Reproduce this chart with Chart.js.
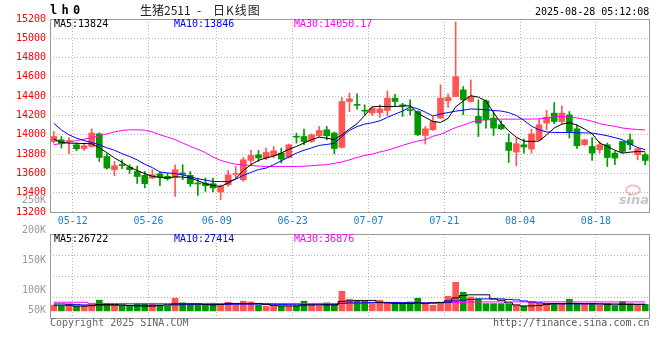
<!DOCTYPE html>
<html>
<head>
<meta charset="utf-8">
<title>lh0 日K线图</title>
<script src="https://cdn.jsdelivr.net/npm/chart.js@4.4.1/dist/chart.umd.min.js"></script>
<style>
  html, body { margin: 0; padding: 0; background: #fff; }
  #wrap { position: relative; width: 660px; height: 360px; overflow: hidden;
          font-family: "DejaVu Sans Mono", monospace; font-size: 10px; line-height: 12px; color: #000; }
  #kbox { position: absolute; left: 0; top: 0; width: 660px; height: 232px; }
  #vbox { position: absolute; left: 0; top: 190px; width: 660px; height: 170px; }
  canvas { display: block; }
  .t { position: absolute; white-space: pre; z-index: 5; }
  .cjk { font-family: "Noto Sans CJK SC", sans-serif; font-size: 12px; line-height: 14px; color: #222; }
</style>
</head>
<body>
<div id="wrap">
  <div id="kbox"><canvas id="kline" width="660" height="232"></canvas></div>
  <div id="vbox"><canvas id="vol" width="660" height="170"></canvas></div>

  <div class="t" style="left:50px;top:3px;font-weight:bold;font-size:12px;line-height:14px;letter-spacing:-1.5px">l h 0</div>
  <div class="t cjk" style="left:140px;top:3px">生猪2511</div>
  <div class="t cjk" style="left:197px;top:3px">-</div>
  <div class="t cjk" style="left:213px;top:3px;letter-spacing:1px">日K线图</div>
  <div class="t" style="left:535px;top:6px">2025-08-28 05:12:08</div>

  <div class="t" style="left:54px;top:18px;color:#000">MA5:13824</div>
  <div class="t" style="left:174px;top:18px;color:#0000ff">MA10:13846</div>
  <div class="t" style="left:294px;top:18px;color:#ff00ff">MA30:14050.17</div>

  <div class="t" style="left:54px;top:233px;color:#000">MA5:26722</div>
  <div class="t" style="left:174px;top:233px;color:#0000ff">MA10:27414</div>
  <div class="t" style="left:294px;top:233px;color:#ff00ff">MA30:36876</div>

  <div class="t" style="left:50px;top:317px;color:#666">Copyright 2025 SINA.COM</div>
  <div class="t" style="left:493px;top:317px;color:#555">http://finance.sina.com.cn</div>
</div>
<script>
// trading days shown on the chart
var dates = ['05-08','05-09','05-12','05-13','05-14','05-15','05-16','05-19','05-20','05-21',
  '05-22','05-23','05-26','05-27','05-28','05-29','05-30','06-03','06-04','06-05',
  '06-06','06-09','06-10','06-11','06-12','06-13','06-16','06-17','06-18','06-19',
  '06-20','06-23','06-24','06-25','06-26','06-27','06-30','07-01','07-02','07-03',
  '07-04','07-07','07-08','07-09','07-10','07-11','07-14','07-15','07-16','07-17',
  '07-18','07-21','07-22','07-23','07-24','07-25','07-28','07-29','07-30','07-31',
  '08-01','08-04','08-05','08-06','08-07','08-08','08-11','08-12','08-13','08-14',
  '08-15','08-18','08-19','08-20','08-21','08-22','08-25','08-26','08-27'];
var tickDates = ['05-12','05-26','06-09','06-23','07-07','07-21','08-04','08-18'];

var opens = [13931,13948,13930,13897,13858,13879,14010,13775,13638,13690,
  13666,13620,13580,13552,13596,13570,13558,13605,13580,13500,
  13500,13493,13407,13483,13590,13534,13734,13793,13760,13783,
  13810,13765,13985,13982,13931,13990,14052,14018,13869,14345,
  14315,14255,14225,14230,14252,14380,14308,14262,14241,13993,
  14052,14173,14352,14396,14466,14345,14190,14352,14173,14104,
  13920,13821,13897,13852,13948,14121,14225,14138,14207,14062,
  13897,13879,13845,13897,13810,13931,13948,13793,13793];
var highs = [14034,13982,13970,13915,13914,14062,14020,13803,13724,13740,
  13690,13676,13620,13638,13610,13600,13690,13690,13620,13552,
  13552,13552,13480,13631,13672,13765,13838,13838,13862,13879,
  13862,13905,14018,14059,14010,14086,14086,14030,14386,14432,
  14424,14311,14290,14311,14455,14420,14328,14362,14250,14086,
  14189,14518,14424,15170,14500,14569,14362,14362,14241,14145,
  14010,13966,13955,14059,14160,14252,14334,14300,14241,14104,
  13955,13972,13931,13914,13830,13935,14010,13865,13810];
var lows = [13914,13862,13805,13835,13838,13870,13724,13645,13576,13650,
  13600,13495,13450,13545,13472,13530,13361,13535,13465,13372,
  13413,13410,13327,13465,13552,13517,13690,13724,13741,13760,
  13707,13760,13914,13897,13920,13982,13948,13803,13865,14241,
  14266,14207,14200,14180,14197,14300,14190,14207,13990,13904,
  14045,14173,14283,14396,14207,14338,13982,14070,13993,14052,
  13713,13679,13810,13810,13940,14052,14114,14114,13966,13860,
  13890,13734,13810,13672,13690,13810,13845,13740,13690];
var closes = [13982,13907,13938,13855,13886,14018,13765,13655,13679,13680,
  13638,13568,13493,13586,13562,13545,13638,13590,13493,13490,
  13472,13448,13465,13586,13600,13741,13786,13760,13817,13834,
  13749,13897,13975,13931,14000,14045,13990,13858,14345,14373,
  14305,14245,14276,14269,14380,14345,14300,14252,14000,14062,
  14138,14380,14386,14603,14362,14397,14121,14155,14069,14062,
  13838,13907,13873,14010,14104,14183,14138,14225,14034,13886,
  13948,13810,13897,13765,13759,13827,13897,13855,13734];

var ma5 = [13955,13920,13914,13912,13910,13907,13865,13815,13760,13715,
  13665,13630,13598,13570,13558,13552,13565,13562,13552,13525,
  13492,13475,13465,13500,13545,13630,13690,13735,13760,13780,
  13810,13850,13879,13915,13950,13976,13965,13950,14000,14060,
  14115,14200,14290,14295,14293,14293,14298,14300,14224,14180,
  14138,14128,14170,14290,14350,14405,14390,14350,14230,14120,
  14040,13975,13935,13931,13935,14000,14070,14110,14127,14100,
  14060,14010,13914,13880,13840,13810,13820,13827,13824];
var ma10 = [14120,14050,14000,13965,13940,13920,13897,13865,13840,13805,
  13775,13740,13695,13660,13615,13605,13598,13585,13565,13545,
  13530,13517,13515,13515,13540,13580,13610,13640,13655,13690,
  13730,13770,13810,13840,13865,13890,13900,13912,13980,14045,
  14085,14111,14125,14145,14180,14215,14245,14290,14270,14235,
  14195,14215,14230,14245,14255,14268,14265,14259,14252,14246,
  14230,14200,14150,14090,14052,14030,14024,14024,14024,14022,
  14020,14018,14005,13990,13970,13950,13905,13868,13846];
var ma30 = [13897,13910,13925,13940,13955,13970,13990,14010,14030,14045,
  14052,14052,14048,14030,14000,13976,13950,13915,13880,13850,
  13815,13770,13735,13712,13695,13688,13682,13676,13672,13672,
  13672,13672,13672,13674,13680,13686,13690,13705,13718,13740,
  13765,13786,13800,13822,13840,13865,13890,13915,13935,13950,
  13985,14005,14040,14075,14100,14130,14150,14155,14160,14162,
  14162,14162,14162,14163,14165,14175,14185,14190,14185,14175,
  14160,14140,14115,14100,14088,14070,14062,14055,14050.17];

var volumes = [23800,20500,28700,20500,21300,27400,44200,29900,22500,20500,
  20500,29900,29900,28700,23300,19200,52000,32800,23300,23300,
  23300,31500,23300,35600,23300,39700,36900,23300,19200,20100,
  19600,18800,20100,39700,23300,19200,32800,24600,80700,47900,
  42200,39700,29900,43800,29900,27400,29900,36900,52000,29900,
  23300,29900,60200,117500,76600,57300,49100,29900,29900,29900,
  27400,23300,19200,35600,29900,28700,28700,31500,47900,28700,
  27400,27400,23800,29900,20500,38900,28700,25800,27400];
var vma5 = [23300,23300,23300,19700,19700,21300,26600,26600,26600,24600,
  22500,20500,19700,19700,22500,24600,28700,28700,28700,28700,
  26600,24600,26600,29900,29900,29900,29900,29900,26600,22500,
  20500,20500,20500,24600,24600,24600,24600,24600,38900,41000,
  43000,43000,43000,34800,32800,30700,30700,30700,32800,30700,
  32800,34800,41000,53200,63100,66000,66000,66000,49100,43800,
  32800,24600,20500,20500,22500,26600,29900,29900,30700,30700,
  29900,29900,28700,26600,24600,26600,26600,26600,26722];
var vma10 = [28700,28700,27400,26600,24600,23300,23300,23300,23300,23300,
  23300,23300,23300,23300,23800,24600,24600,25400,25800,26600,
  26600,26600,26600,27000,27000,27800,27800,27800,27800,27000,
  26600,25800,25400,25400,25400,25400,25400,26600,30700,32800,
  32800,32800,34800,34800,34800,34800,34000,32800,32800,32800,
  32800,32800,34800,41000,45000,47100,49100,49100,49100,49100,
  47100,45000,41000,36900,32800,30700,29500,28700,28700,28700,
  28700,28700,28700,28700,28700,28700,27800,27400,27414];
var vma30 = [35600,35600,35600,35400,35200,31000,30700,30700,30700,30700,
  30700,30700,30700,30700,30700,30700,30700,30700,30700,30700,
  30700,30700,30700,30700,30700,30700,30700,30700,30700,30700,
  30700,30700,30700,30700,30700,30700,30700,30700,30900,31200,
  31600,32800,32800,32800,32800,32800,32800,32800,32800,32800,
  32800,34800,34800,34800,34800,36900,36900,36900,36900,36900,
  36900,36900,36900,36900,36900,36900,36900,36900,36900,36900,
  36900,36900,36900,36900,36900,36900,36900,36900,36876];

var volTickText = ['250K','200K','150K','100K','50K'];
var volTickAt = [250000, 200000, 150000, 100000, 67500];

var UP = '#ff5555', DOWN = '#009900';
var candleColor = closes.map(function(c, i){ return c >= opens[i] ? UP : DOWN; });

function pts(arr){ return arr.map(function(v, i){ return {x: i, y: v}; }); }
function ranges(a, b){ return a.map(function(v, i){ return {x: i, y: [v, b[i]]}; }); }

Chart.defaults.font.family = '"DejaVu Sans Mono", monospace';
Chart.defaults.font.size = 10;

// grey box round the plot area
var framePlugin = {
  id: 'frame',
  afterDatasetsDraw: function(chart){
    var a = chart.chartArea, ctx = chart.ctx;
    ctx.save();
    ctx.strokeStyle = '#999';
    ctx.lineWidth = 1;
    ctx.strokeRect(a.left + 0.5, a.top + 0.5, a.right - a.left, a.bottom - a.top);
    ctx.restore();
  }
};

var sinaMark = {
  id: 'sinaMark',
  beforeDatasetsDraw: function(chart){
    var ctx = chart.ctx;
    ctx.save();
    ctx.strokeStyle = 'rgba(235,110,110,0.45)';
    ctx.lineWidth = 2;
    ctx.beginPath();
    ctx.ellipse(633, 190, 7, 4.5, 0, 0, Math.PI * 2);
    ctx.stroke();
    ctx.font = 'italic bold 13px "DejaVu Sans", sans-serif';
    ctx.fillStyle = 'rgba(150,150,150,0.55)';
    ctx.textAlign = 'right';
    ctx.fillText('sina', 649, 204);
    ctx.restore();
  }
};

function xScale(showLabels){
  return {
    type: 'linear',
    offset: false,
    min: -0.5,
    max: dates.length - 0.5,
    afterBuildTicks: function(s){
      s.ticks = tickDates.map(function(d){ return {value: dates.indexOf(d) + 0.5}; });
    },
    afterFit: function(s){ s.height = showLabels ? 20 : 0; },
    grid: { color: '#b4b4b4', drawTicks: false, offset: false },
    border: { display: false, dash: [1, 2] },
    ticks: {
      display: showLabels, autoSkip: false, maxRotation: 0, padding: 3, color: '#1a7fd0',
      callback: function(v){ return dates[Math.round(v - 0.5)]; }
    }
  };
}

function maLine(data, color, axis, stepped){
  return {
    type: 'line', data: pts(data), borderColor: color, borderWidth: 1,
    pointRadius: 0, tension: 0, stepped: stepped || false, yAxisID: axis, order: 0
  };
}

new Chart(document.getElementById('kline'), {
  type: 'bar',
  data: {
    datasets: [
      maLine(ma5, '#000000', 'y'),
      maLine(ma10, '#0000ff', 'y'),
      maLine(ma30, '#ff00ff', 'y'),
      { data: ranges(opens, closes), backgroundColor: candleColor, barThickness: 6,
        minBarLength: 1, grouped: false, yAxisID: 'y', order: 1 },
      { data: ranges(lows, highs), backgroundColor: candleColor, barThickness: 1,
        grouped: false, yAxisID: 'y', order: 2 }
    ]
  },
  options: {
    responsive: false, animation: false, events: [],
    layout: { padding: { left: 0, right: 11, top: 19, bottom: 0 } },
    plugins: { legend: { display: false }, tooltip: { enabled: false } },
    scales: {
      x: xScale(true),
      y: {
        min: 13200, max: 15200,
        afterFit: function(s){ s.width = 50; },
        grid: { color: '#b4b4b4', drawTicks: false },
        border: { display: false, dash: [1, 2] },
        ticks: { stepSize: 200, color: '#ff0000', padding: 4,
                 callback: function(v){ return String(v); } }
      }
    }
  },
  plugins: [framePlugin, sinaMark]
});

new Chart(document.getElementById('vol'), {
  type: 'bar',
  data: {
    datasets: [
      maLine(vma5, '#000000', 'yv', 'middle'),
      maLine(vma10, '#0000ff', 'yv', 'middle'),
      maLine(vma30, '#ff00ff', 'yv', 'middle'),
      { data: pts(volumes), backgroundColor: candleColor, barThickness: 6,
        grouped: false, yAxisID: 'yv', order: 1 }
    ]
  },
  options: {
    responsive: false, animation: false, events: [],
    layout: { padding: { left: 0, right: 11, top: 44, bottom: 42 } },
    plugins: { legend: { display: false }, tooltip: { enabled: false } },
    scales: {
      x: xScale(false),
      yv: {
        position: 'left', min: -29000, max: 315000,
        afterBuildTicks: function(s){
          var t = [];
          for (var k = 0; k <= 4; k++) t.push({value: s.min + k * (s.max - s.min) / 4});
          s.ticks = t;
        },
        afterFit: function(s){ s.width = 0; },
        grid: { color: '#b4b4b4', drawTicks: false },
        border: { display: false, dash: [1, 2] },
        ticks: { display: false }
      },
      yl: {
        position: 'left', min: 54167, max: 194167,
        afterBuildTicks: function(s){
          s.ticks = volTickAt.map(function(v){ return {value: v}; });
        },
        afterFit: function(s){ s.width = 50; },
        grid: { display: false, drawTicks: false },
        border: { display: false },
        ticks: {
          color: '#999999', padding: 4, autoSkip: false,
          callback: function(v, i){ return volTickText[i]; }
        }
      }
    }
  },
  plugins: [framePlugin]
});
</script>
</body>
</html>
